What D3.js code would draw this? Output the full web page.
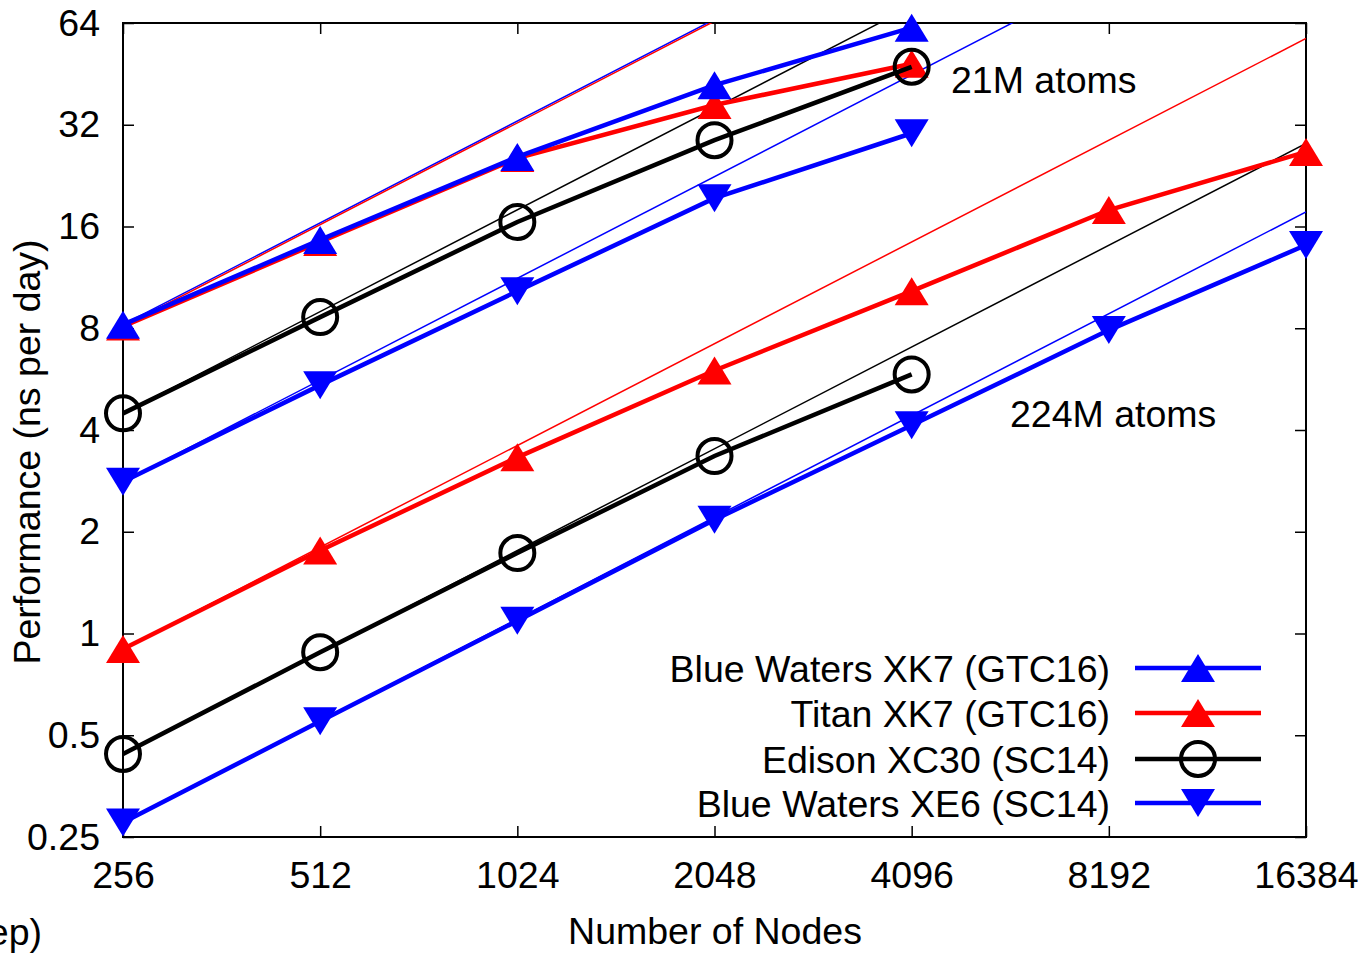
<!DOCTYPE html>
<html>
<head>
<meta charset="utf-8">
<script src="https://cdn.jsdelivr.net/npm/d3@7"></script>
<style>
  body { margin: 0; background: #fff; }
  text { font-family: "Liberation Sans", Arial, Helvetica, sans-serif; }
</style>
</head>
<body>
<div id="chart"></div>
<script>
// node counts (x axis, log2)
var nodes = [256, 512, 1024, 2048, 4096, 8192, 16384];
var y_ticks = [0.25, 0.5, 1, 2, 4, 8, 16, 32, 64];

// performance, ns per day
var bw_xk7_21M = [8.2, 14.6, 25.7, 41.9, 62];
var titan_21M = [8.1, 14.4, 25.5, 36.6, 48.5];
var titan_224M = [0.9, 1.76, 3.32, 6.0, 10.3, 17.9, 26.6];
var edison_21M = [4.48, 8.63, 16.5, 28.8, 47.5];
var edison_224M = [0.44, 0.88, 1.73, 3.35, 5.84];
var bw_xe6_21M = [2.81, 5.43, 10.3, 19.4, 30.2];
var bw_xe6_224M = [0.276, 0.55, 1.09, 2.17, 4.13, 7.9, 14.1];

var legend_names = ["Blue Waters XK7 (GTC16)", "Titan XK7 (GTC16)", "Edison XC30 (SC14)", "Blue Waters XE6 (SC14)"];
var legend_colors = ["#0000ff", "#ff0000", "#000000", "#0000ff"];
var legend_markers = ["up", "up", "circle", "down"];

const svg_width = 1367
const svg_height = 956
const plot_left = 123, plot_right = 1306, plot_top = 23, plot_bottom = 837
const font_size = 37.5

var svg = d3.select('#chart').append('svg')
  .attr('width', svg_width)
  .attr('height', svg_height);

var x_scale = d3.scaleLog().base(2).domain([256, 16384]).range([plot_left, plot_right]);
var y_scale = d3.scaleLog().base(2).domain([0.25, 64]).range([plot_bottom, plot_top]);

svg.append('clipPath').attr('id', 'plot_clip')
  .append('rect')
  .attr('x', plot_left).attr('y', plot_top)
  .attr('width', plot_right - plot_left).attr('height', plot_bottom - plot_top);

// axes, ticks pointing inward on all four sides
var fmt_y = function(d){ return d < 1 ? String(d) : d3.format('d')(d); };

svg.append('g')
  .attr('transform', `translate(0,${plot_bottom})`)
  .call(d3.axisBottom(x_scale).tickValues(nodes).tickFormat(d3.format('d')).tickSize(-11).tickPadding(24));
svg.append('g')
  .attr('transform', `translate(0,${plot_top})`)
  .call(d3.axisTop(x_scale).tickValues(nodes).tickFormat('').tickSize(-11));
svg.append('g')
  .attr('transform', `translate(${plot_left},0)`)
  .call(d3.axisLeft(y_scale).tickValues(y_ticks).tickFormat(fmt_y).tickSize(-11).tickPadding(23));
svg.append('g')
  .attr('transform', `translate(${plot_right},0)`)
  .call(d3.axisRight(y_scale).tickValues(y_ticks).tickFormat('').tickSize(-11));

svg.selectAll('.domain').remove();
svg.selectAll('.tick line').attr('stroke', '#000').attr('stroke-width', 1.5);
svg.selectAll('.tick text')
  .style('font-size', font_size + 'px')
  .attr('fill', '#000')
  .style('font-family', '"Liberation Sans", Arial, Helvetica, sans-serif');

svg.append('rect')
  .attr('x', plot_left).attr('y', plot_top)
  .attr('width', plot_right - plot_left).attr('height', plot_bottom - plot_top)
  .attr('fill', 'none').attr('stroke', '#000').attr('stroke-width', 2);

// axis titles
svg.append('text')
  .attr('transform', 'translate(40,452) rotate(-90)')
  .attr('text-anchor', 'middle')
  .style('font-size', font_size + 'px')
  .text('Performance (ns per day)');

svg.append('text')
  .attr('x', 715).attr('y', 944)
  .attr('text-anchor', 'middle')
  .style('font-size', font_size + 'px')
  .text('Number of Nodes');

// leftover of a neighbouring caption in the cropped figure
svg.append('text')
  .attr('x', 42).attr('y', 945)
  .attr('text-anchor', 'end')
  .style('font-size', font_size + 'px')
  .text('ep)');

// ideal scaling lines (thin), from the first point of each run
var ideal_group = svg.append('g').attr('clip-path', 'url(#plot_clip)');
var ideal_runs = [
  [bw_xe6_21M, '#0000ff'], [bw_xe6_224M, '#0000ff'],
  [edison_21M, '#000000'], [edison_224M, '#000000'],
  [bw_xk7_21M, '#0000ff'],
  [titan_21M, '#ff0000'], [titan_224M, '#ff0000']
];
ideal_runs.forEach(function(run){
  var v0 = run[0][0];
  ideal_group.append('line')
    .attr('x1', x_scale(256)).attr('y1', y_scale(v0))
    .attr('x2', x_scale(16384)).attr('y2', y_scale(v0 * 64))
    .attr('stroke', run[1])
    .attr('stroke-width', 1.5);
});

// marker shapes
var tri_w = 34, tri_h = 28;
function marker_path(kind){
  if (kind === 'up') return `M0,${-tri_h/2}L${tri_w/2},${tri_h/2}L${-tri_w/2},${tri_h/2}Z`;
  return `M0,${tri_h/2}L${tri_w/2},${-tri_h/2}L${-tri_w/2},${-tri_h/2}Z`;
}

function draw_marker(g, x, y, kind, color){
  if (kind === 'circle') {
    g.append('circle')
      .attr('cx', x).attr('cy', y).attr('r', 17)
      .attr('fill', 'none').attr('stroke', color).attr('stroke-width', 4);
  } else {
    g.append('path')
      .attr('d', marker_path(kind))
      .attr('transform', `translate(${x},${y})`)
      .attr('fill', color);
  }
}

var line_gen = d3.line()
  .x(function(d, i){ return x_scale(nodes[i]); })
  .y(function(d){ return y_scale(d); });

// measured runs (thick lines with markers)
var runs = [
  [titan_21M, 1], [titan_224M, 1],
  [bw_xk7_21M, 0],
  [edison_21M, 2], [edison_224M, 2],
  [bw_xe6_21M, 3], [bw_xe6_224M, 3]
];
runs.forEach(function(run){
  var vals = run[0], s = run[1];
  var g = svg.append('g');
  g.append('path')
    .attr('d', line_gen(vals))
    .attr('fill', 'none')
    .attr('stroke', legend_colors[s])
    .attr('stroke-width', 4.5);
  vals.forEach(function(v, i){
    draw_marker(g, x_scale(nodes[i]), y_scale(v), legend_markers[s], legend_colors[s]);
  });
});

// annotations
svg.append('text')
  .attr('x', 951).attr('y', 93)
  .style('font-size', font_size + 'px')
  .text('21M atoms');
svg.append('text')
  .attr('x', 1010).attr('y', 427)
  .style('font-size', font_size + 'px')
  .text('224M atoms');

// legend
var legend_rows = [668, 713, 759, 803];
legend_names.forEach(function(name, i){
  var y = legend_rows[i];
  svg.append('text')
    .attr('x', 1110).attr('y', y)
    .attr('dy', '0.36em')
    .attr('text-anchor', 'end')
    .style('font-size', font_size + 'px')
    .text(name);
  svg.append('line')
    .attr('x1', 1135).attr('x2', 1261)
    .attr('y1', y).attr('y2', y)
    .attr('stroke', legend_colors[i])
    .attr('stroke-width', 4.5);
  draw_marker(svg, 1198, y, legend_markers[i], legend_colors[i]);
});
</script>
</body>
</html>
